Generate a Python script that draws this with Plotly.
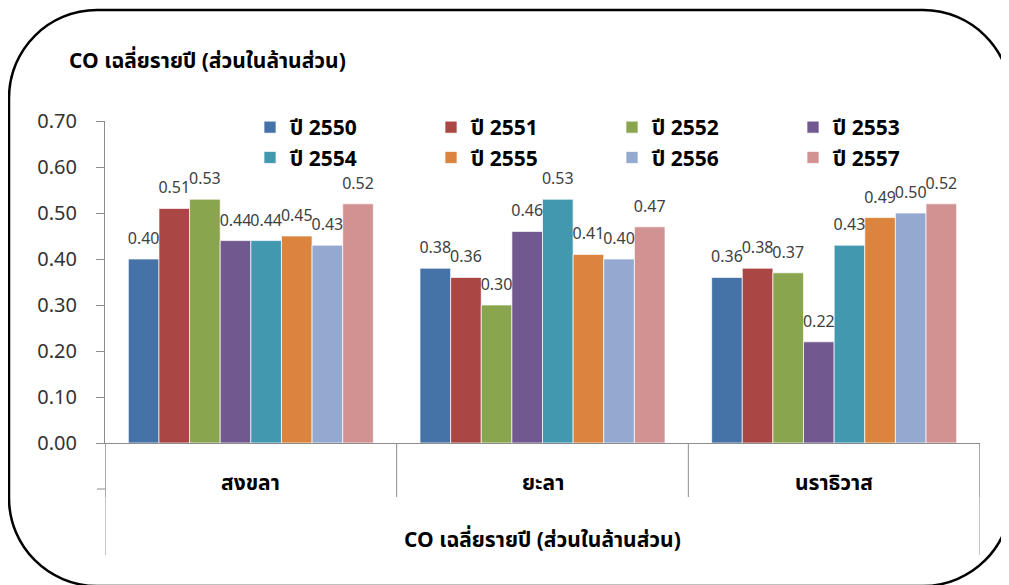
import plotly.graph_objects as go

categories = ["สงขลา", "ยะลา", "นราธิวาส"]
series_names = ["ปี 2550", "ปี 2551", "ปี 2552", "ปี 2553", "ปี 2554", "ปี 2555", "ปี 2556", "ปี 2557"]
values_2550 = [0.40, 0.38, 0.36]
values_2551 = [0.51, 0.36, 0.38]
values_2552 = [0.53, 0.30, 0.37]
values_2553 = [0.44, 0.46, 0.22]
values_2554 = [0.44, 0.53, 0.43]
values_2555 = [0.45, 0.41, 0.49]
values_2556 = [0.43, 0.40, 0.50]
values_2557 = [0.52, 0.47, 0.52]
series_values = [values_2550, values_2551, values_2552, values_2553,
                 values_2554, values_2555, values_2556, values_2557]
colors = ["#4572A7", "#AA4643", "#89A54E", "#71588F", "#4198AF", "#DB843D", "#93A9CF", "#D19392"]
title_text = "CO เฉลี่ยรายปี (ส่วนในล้านส่วน)"
y_ticks = [0.0, 0.1, 0.2, 0.3, 0.4, 0.5, 0.6, 0.7]

FONT = "Tahoma, 'Noto Sans Thai', 'Noto Sans', 'DejaVu Sans', sans-serif"
O = 8  # page body margin offset
WIN_W, WIN_H = 1009, 585
WIDTH, HEIGHT = WIN_W - O, WIN_H - O
# plot area in screen pixels
SL, ST, SR, SB = 105, 121, 980, 443
L, T = SL - O, ST - O
PW, PH = SR - SL, SB - ST
R = WIDTH - L - PW
B = HEIGHT - T - PH


def px2x(px):
    return (px - SL) / PW


def py2y(py):
    return (SB - py) / PH


fig = go.Figure()
x_idx = list(range(len(categories)))
for name, vals, col in zip(series_names, series_values, colors):
    fig.add_trace(go.Bar(
        x=x_idx, y=vals, name=f"<b>{name}</b>", offsetgroup=name,
        marker=dict(color=col, line=dict(color="rgba(255,255,255,0.7)", width=1)),
        hoverinfo="skip",
    ))
for name, vals in zip(series_names, series_values):
    fig.add_trace(go.Scatter(
        x=x_idx, y=vals, mode="markers+text", offsetgroup=name, showlegend=False,
        marker=dict(size=16, opacity=0, color="white"),
        text=[f"{v:.2f}" for v in vals], textposition="top center",
        textfont=dict(family=FONT, size=16, color="#404040"),
        cliponaxis=False, hoverinfo="skip",
    ))

shapes = []
grey = "#8C8C8C"
for xv in [-0.5, 0.5, 1.5, 2.5]:
    shapes.append(dict(type="line", xref="x", yref="paper", x0=xv, x1=xv,
                       y0=0, y1=py2y(497), line=dict(color=grey, width=1)))
for xv in [-0.5, 2.5]:
    shapes.append(dict(type="line", xref="x", yref="paper", x0=xv, x1=xv,
                       y0=0, y1=py2y(555), line=dict(color=grey, width=1)))
shapes.append(dict(type="line", xref="paper", yref="paper", x0=px2x(97), x1=px2x(105),
                   y0=py2y(489), y1=py2y(489), line=dict(color=grey, width=1)))

# rounded frame (screen pixels)
x0, y0, x1, y1, r = 9, 10, 1011, 586, 88
k = 0.5523 * r


def P(px, py):
    return f"{px2x(px):.5f},{py2y(py):.5f}"


path = (f"M {P(x0 + r, y0)} L {P(x1 - r, y0)} "
        f"C {P(x1 - r + k, y0)} {P(x1, y0 + r - k)} {P(x1, y0 + r)} "
        f"L {P(x1, y1 - r)} "
        f"C {P(x1, y1 - r + k)} {P(x1 - r + k, y1)} {P(x1 - r, y1)} "
        f"L {P(x0 + r, y1)} "
        f"C {P(x0 + r - k, y1)} {P(x0, y1 - r + k)} {P(x0, y1 - r)} "
        f"L {P(x0, y0 + r)} "
        f"C {P(x0, y0 + r - k)} {P(x0 + r - k, y0)} {P(x0 + r, y0)} Z")
shapes.append(dict(type="path", xref="paper", yref="paper", path=path,
                   line=dict(color="black", width=2.5), layer="below"))

annotations = [
    dict(text=f"<b>{title_text}</b>", xref="paper", yref="paper",
         x=px2x(67), y=py2y(61), xanchor="left", yanchor="middle", showarrow=False,
         font=dict(family=FONT, size=21, color="black")),
    dict(text=f"<b>{title_text}</b>", xref="paper", yref="paper",
         x=0.5, y=py2y(540), xanchor="center", yanchor="middle", showarrow=False,
         font=dict(family=FONT, size=21, color="black")),
]
for i, c in enumerate(categories):
    annotations.append(dict(text=f"<b>{c}</b>", xref="x", yref="paper", x=i, y=py2y(483),
                            xanchor="center", yanchor="middle", showarrow=False,
                            font=dict(family=FONT, size=21, color="black")))

fig.update_layout(
    width=WIDTH, height=HEIGHT,
    margin=dict(l=L, r=R, t=T, b=B, pad=0),
    paper_bgcolor="white", plot_bgcolor="white",
    barmode="group", bargap=0.16, bargroupgap=0,
    scattermode="group", scattergap=0.16,
    font=dict(family=FONT, color="#333333"),
    xaxis=dict(range=[-0.5, 2.5], showticklabels=False, ticks="", showgrid=False,
               zeroline=False, showline=True, linecolor=grey, linewidth=1),
    yaxis=dict(range=[0, 0.7], tickvals=y_ticks, tickformat=".2f", showgrid=False,
               zeroline=False, showline=True, linecolor=grey, linewidth=1,
               ticks="outside", ticklen=8, tickcolor=grey,
               tickfont=dict(family=FONT, size=20, color="#333333"),
               ticklabelstandoff=15),
    legend=dict(orientation="h", x=px2x(250), y=py2y(107), xanchor="left", yanchor="top",
                font=dict(family=FONT, size=21, color="black"),
                itemwidth=30, entrywidth=136, entrywidthmode="pixels",
                bgcolor="rgba(0,0,0,0)", tracegroupgap=0, itemclick=False),
    shapes=shapes, annotations=annotations,
)
fig.write_html("out.html")
